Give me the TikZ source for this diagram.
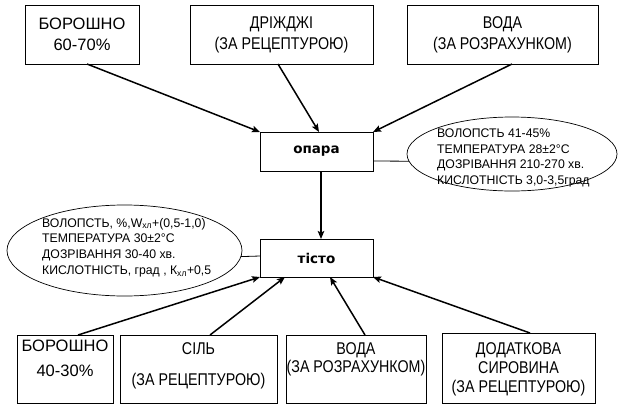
\documentclass[tikz,border=0pt]{standalone}
\usepackage{fontspec}
\setmainfont{Liberation Sans}
\newfontfamily\boxfont[FakeStretch=0.84]{Liberation Sans}
\newfontfamily\widefont[FakeStretch=1.0]{Liberation Sans}
\newfontfamily\notefont[FakeStretch=0.98]{Liberation Sans}
\newfontfamily\stagefont{DejaVu Sans}
\usetikzlibrary{shapes.geometric,arrows.meta}

\begin{document}
\begin{tikzpicture}[x=1pt,y=-1pt,
  frame/.style={draw, line width=0.8pt, inner sep=0pt, outer sep=0pt},
  boxtext/.style={font=\boxfont\fontsize{17}{19}\selectfont, align=center, inner sep=0pt},
  widetext/.style={boxtext, font=\widefont\fontsize{16.5}{19}\selectfont},
  stage/.style={frame, font=\stagefont\bfseries\fontsize{13.5}{16}\selectfont},
  note/.style={draw, ellipse, line width=0.7pt, inner sep=0pt, outer sep=0pt},
  notetext/.style={font=\notefont\fontsize{12.5}{15.7}\selectfont, align=left, inner sep=0pt, anchor=west},
  feed/.style={line width=1.5pt, -{Stealth[length=8pt,width=6.5pt,inset=1.5pt]}},
  link/.style={line width=0.8pt}]
\fill[white] (0,0) rectangle (619,405);
\useasboundingbox (0,0) rectangle (619,405);

% raw materials for the sponge
\node[frame, widetext, minimum width=114pt, minimum height=59pt] (b1) at (82,34.5) {БОРОШНО\\[2pt]60-70\%};
\node[frame, boxtext, minimum width=183pt, minimum height=59pt] (b2) at (281.5,34.5) {ДРІЖДЖІ\\[2pt](ЗА РЕЦЕПТУРОЮ)};
\node[frame, boxtext, minimum width=191pt, minimum height=59pt] (b3) at (502.5,34.5) {ВОДА\\[2pt](ЗА РОЗРАХУНКОМ)};

% process stages
\node[stage, minimum width=113pt, minimum height=39pt] (opara) at (316.5,151.5) {опара};
\node[stage, minimum width=113pt, minimum height=38pt] (tisto) at (316.5,258) {тісто};

% stage parameters
\node[note, minimum width=210pt, minimum height=74pt] (e1) at (512,154) {};
\node[notetext] (n1) at (437,158) {ВОЛОПСТЬ 41-45\%\\ТЕМПЕРАТУРА 28±2°C\\ДОЗРІВАННЯ 210-270 хв.\\КИСЛОТНІСТЬ 3,0-3,5град};
\node[note, minimum width=235pt, minimum height=91pt] (e2) at (124.5,250.5) {};
\node[notetext] (n2) at (42,247.5) {ВОЛОПСТЬ, \%,W\textsubscript{хл}+(0,5-1,0)\\ТЕМПЕРАТУРА 30±2°C\\ДОЗРІВАННЯ 30-40 хв.\\КИСЛОТНІСТЬ, град , К\textsubscript{хл}+0,5};

% raw materials for the dough
\node[frame, minimum width=96pt, minimum height=68pt] (c1) at (65,369) {};
\node[widetext, anchor=north] (c1t) at ([yshift=-5pt]c1.north) {БОРОШНО\\[6pt]40-30\%};
\node[frame, minimum width=157pt, minimum height=68pt] (c2) at (198.5,369) {};
\node[boxtext, anchor=north] (c2t) at ([yshift=-7pt]c2.north) {СІЛЬ\\[12.5pt](ЗА РЕЦЕПТУРОЮ)};
\node[frame, minimum width=140pt, minimum height=68pt] (c3) at (356,369) {};
\node[boxtext, anchor=north] (c3t) at ([yshift=-7pt]c3.north) {ВОДА\\[-1pt](ЗА РОЗРАХУНКОМ)};
\node[frame, minimum width=153pt, minimum height=70pt] (c4) at (518.5,368) {};
\node[boxtext, anchor=north] (c4t) at ([yshift=-9pt]c4.north) {ДОДАТКОВА\\СИРОВИНА\\(ЗА РЕЦЕПТУРОЮ)};

% flows
\draw[feed] ([xshift=5pt]b1.south) -- (opara.north west);
\draw[feed] ([xshift=-3.5pt]b2.south) -- ([xshift=2.5pt]opara.north);
\draw[feed] ([xshift=9.5pt]b3.south) -- (opara.north east);
\draw[feed] ([xshift=4.5pt]opara.south) -- ([xshift=4.5pt]tisto.north);
\draw[feed] ([xshift=13pt]c1.north) -- (tisto.south west);
\draw[feed] ([xshift=11.5pt]c2.north) -- ([xshift=-31.5pt]tisto.south);
\draw[feed] ([xshift=9pt]c3.north) -- ([xshift=13.5pt]tisto.south);
\draw[feed] ([xshift=11.5pt]c4.north) -- (tisto.south east);

% parameter callouts
\draw[link] ([yshift=-9.5pt]opara.east) -- (e1.184);
\draw[link] (e2.-3) -- ([yshift=2pt]tisto.west);
\end{tikzpicture}
\end{document}
